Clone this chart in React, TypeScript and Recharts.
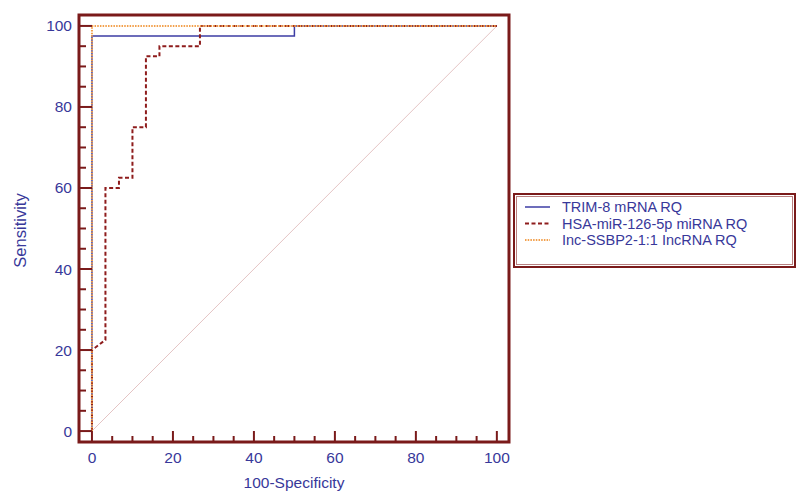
import React from 'react';
import { ComposedChart, Line, XAxis, YAxis, ReferenceArea, Legend } from 'recharts';

// ---- data ----
const trimX = [0, 0, 50, 50, 100];
const trimY = [0, 97.5, 97.5, 100, 100];

const hsaX = [0, 0, 3.33, 3.33, 6.67, 6.67, 10, 10, 13.33, 13.33, 16.67, 16.67, 26.67, 26.67, 100];
const hsaY = [0, 20, 22.5, 60, 60, 62.5, 62.5, 75, 75, 92.5, 92.5, 95, 95, 100, 100];

const lncX = [0, 0, 100];
const lncY = [0, 100, 100];

const diagX = [0, 100];
const diagY = [0, 100];

const tickValues = [0, 5, 10, 15, 20, 25, 30, 35, 40, 45, 50, 55, 60, 65, 70, 75, 80, 85, 90, 95, 100];
const labelledTicks = [0, 20, 40, 60, 80, 100];

const seriesNames = ['TRIM-8 mRNA RQ', 'HSA-miR-126-5p miRNA RQ', 'lnc-SSBP2-1:1 lncRNA RQ'];
const seriesLabels = ['TRIM-8 mRNA RQ', 'HSA-miR-126-5p miRNA RQ', 'Inc-SSBP2-1:1 IncRNA RQ'];
const xLabel = '100-Specificity';
const yLabel = 'Sensitivity';

// ---- styles ----
const FRAME = '#7a1a1a';
const TEXT = '#38389a';
const FONT = '"Liberation Sans", Arial, sans-serif';
const seriesStyles = [
  { stroke: '#3c3ca4', width: 1.5, dash: undefined as string | undefined },
  { stroke: '#8e1c1c', width: 2, dash: '4 2.5' },
  { stroke: '#f2a04c', width: 2, dash: '1.5 1.2' },
];

const zip = (xs: number[], ys: number[]) => xs.map((x, i) => ({ x, y: ys[i] }));

const XTick = (props: any) => {
  const { x, y, payload } = props;
  const v = payload.value;
  const major = labelledTicks.includes(v);
  return (
    <g>
      <line x1={x} y1={y} x2={x} y2={y - (major ? 11 : 6)} stroke={FRAME} strokeWidth={2} />
      {major && (
        <text x={x} y={y + 15} textAnchor="middle" dominantBaseline="central" fill={TEXT} fontSize={15.5} fontFamily={FONT}>
          {v}
        </text>
      )}
    </g>
  );
};

const YTick = (props: any) => {
  const { x, y, payload } = props;
  const v = payload.value;
  const major = labelledTicks.includes(v);
  return (
    <g>
      <line x1={x} y1={y} x2={x + (major ? 13 : 7)} y2={y} stroke={FRAME} strokeWidth={2} />
      {major && (
        <text x={x - 7} y={y} textAnchor="end" dominantBaseline="central" fill={TEXT} fontSize={15.5} fontFamily={FONT}>
          {v}
        </text>
      )}
    </g>
  );
};

const LegendBox = () => (
  <div
    style={{
      width: 279,
      height: 71,
      border: `2px solid ${FRAME}`,
      boxShadow: 'inset 0 0 0 1px #fff, inset 0 0 0 2px #b88080',
      background: '#fff',
      boxSizing: 'content-box',
    }}
  >
    <svg width={279} height={71}>
      {seriesLabels.map((name, i) => {
        const cy = 12 + i * 16.5;
        const s = seriesStyles[i];
        return (
          <g key={name}>
            <line x1={10} x2={35} y1={cy} y2={cy} stroke={s.stroke} strokeWidth={s.width} strokeDasharray={s.dash} />
            <text x={47} y={cy} dominantBaseline="central" fill={TEXT} fontSize={14.5} fontFamily={FONT}>
              {name}
            </text>
          </g>
        );
      })}
    </svg>
  </div>
);

export default function App() {
  const data = [zip(trimX, trimY), zip(hsaX, hsaY), zip(lncX, lncY)];
  return (
    <div style={{ position: 'absolute', left: 0, top: 0, width: 797, height: 492, background: '#fff' }}>
      <ComposedChart width={797} height={492} margin={{ top: 15, right: 288, bottom: 0, left: 0 }}>
        <XAxis
          dataKey="x"
          type="number"
          domain={[-3.2, 103]}
          ticks={tickValues}
          interval={0}
          allowDataOverflow
          axisLine={false}
          tickLine={false}
          tickSize={0}
          tickMargin={0}
          height={50}
          tick={<XTick />}
          label={{ value: xLabel, position: 'insideBottom', offset: 4, fill: TEXT, fontSize: 15.5, fontFamily: FONT }}
        />
        <YAxis
          dataKey="y"
          type="number"
          domain={[-2.7, 102.7]}
          ticks={tickValues}
          interval={0}
          allowDataOverflow
          axisLine={false}
          tickLine={false}
          tickSize={0}
          tickMargin={0}
          width={79}
          tick={<YTick />}
          label={{
            content: (p: any) => {
              const vb = p.viewBox;
              const cx = vb.x + 20;
              const cy = vb.y + vb.height / 2 + 2;
              return (
                <text x={cx} y={cy} transform={`rotate(-90 ${cx} ${cy})`} textAnchor="middle" dominantBaseline="central" fill={TEXT} fontSize={16.5} fontFamily={FONT}>
                  {yLabel}
                </text>
              );
            },
          }}
        />
        <Line
          data={zip(diagX, diagY)}
          dataKey="y"
          type="linear"
          stroke="#e4c4c4"
          strokeWidth={1}
          dot={false}
          activeDot={false}
          legendType="none"
          isAnimationActive={false}
        />
        {data.map((d, i) => (
          <Line
            key={seriesNames[i]}
            name={seriesLabels[i]}
            data={d}
            dataKey="y"
            type="linear"
            stroke={seriesStyles[i].stroke}
            strokeWidth={seriesStyles[i].width}
            strokeDasharray={seriesStyles[i].dash}
            dot={false}
            activeDot={false}
            isAnimationActive={false}
          />
        ))}
        <ReferenceArea x1={-3.2} x2={103} y1={-2.7} y2={102.7} fill="none" stroke={FRAME} strokeWidth={3} ifOverflow="visible" />
        <Legend
          layout="horizontal"
          align="center"
          verticalAlign="middle"
          content={() => <LegendBox />}
          wrapperStyle={{ left: 513, top: 193, width: 283, height: 75 }}
        />
      </ComposedChart>
    </div>
  );
}
